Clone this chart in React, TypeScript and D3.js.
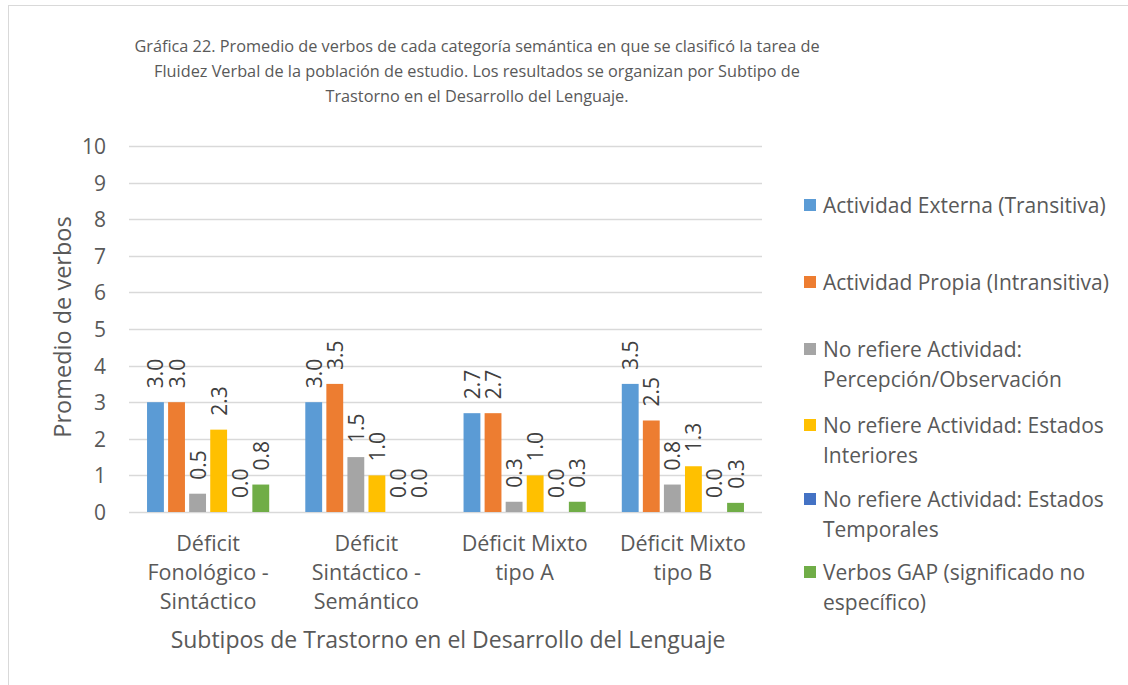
import * as d3 from 'd3';

const categories = [
  ['Déficit', 'Fonológico -', 'Sintáctico'],
  ['Déficit', 'Sintáctico -', 'Semántico'],
  ['Déficit Mixto', 'tipo A'],
  ['Déficit Mixto', 'tipo B'],
];

const seriesNames = [
  ['Actividad Externa (Transitiva)'],
  ['Actividad Propia (Intransitiva)'],
  ['No refiere Actividad:', 'Percepción/Observación'],
  ['No refiere Actividad: Estados', 'Interiores'],
  ['No refiere Actividad: Estados', 'Temporales'],
  ['Verbos GAP (significado no', 'específico)'],
];

// one array per series, values per category
const externa = [3.0, 3.0, 2.7, 3.5];
const propia = [3.0, 3.5, 2.7, 2.5];
const percepcion = [0.5, 1.5, 0.28, 0.75];
const interiores = [2.25, 1.0, 1.0, 1.25];
const temporales = [0, 0, 0, 0];
const gap = [0.75, 0, 0.28, 0.25];
const seriesValues = [externa, propia, percepcion, interiores, temporales, gap];

const colors = ['#5B9BD5', '#ED7D31', '#A5A5A5', '#FFC000', '#4472C4', '#70AD47'];
const yTicks = [0, 1, 2, 3, 4, 5, 6, 7, 8, 9, 10];

const titleLines = [
  'Gráfica 22. Promedio de verbos de cada categoría semántica en que se clasificó la tarea de',
  'Fluidez Verbal de la población de estudio. Los resultados se organizan por Subtipo de',
  'Trastorno en el Desarrollo del Lenguaje.',
];

const FONT = '"Open Sans", "DejaVu Sans", sans-serif';

export default function App() {
  const width = 1128;
  const height = 685;
  const plot = { left: 129, right: 762, top: 146, bottom: 512 };

  const y = d3.scaleLinear().domain([0, 10]).range([plot.bottom, plot.top]);
  const x0 = d3
    .scaleBand<number>()
    .domain(d3.range(categories.length))
    .range([plot.left, plot.right]);
  const pad = x0.bandwidth() * 0.114;
  const x1 = d3
    .scaleBand<number>()
    .domain(d3.range(seriesValues.length))
    .range([pad, x0.bandwidth() - pad])
    .paddingInner(0.2);

  const legendRowY = [205, 282, 349, 425, 499, 572];

  return (
    <svg
      width={width}
      height={height}
      style={{ position: 'absolute', left: 0, top: 0, fontFamily: FONT }}
    >
      <rect x={0} y={0} width={width} height={height} fill="#fff" />
      <rect x={8.5} y={5.5} width={width} height={height} fill="none" stroke="#d9d9d9" />

      {titleLines.map((t, i) => (
        <text
          key={i}
          x={477}
          y={46 + i * 25}
          textAnchor="middle"
          dominantBaseline="central"
          fontSize={16.3}
          fill="#595959"
        >
          {t}
        </text>
      ))}

      {/* gridlines */}
      {yTicks.map((t) => (
        <line
          key={t}
          x1={plot.left}
          x2={plot.right}
          y1={Math.round(y(t)) + 0.5}
          y2={Math.round(y(t)) + 0.5}
          stroke="#d9d9d9"
          strokeWidth={1.5}
        />
      ))}
      {yTicks.map((t) => (
        <text
          key={t}
          x={106}
          y={y(t)}
          textAnchor="end"
          dominantBaseline="central"
          fontSize={21}
          fill="#595959"
        >
          {t}
        </text>
      ))}
      <text
        transform={`translate(62,327) rotate(-90)`}
        textAnchor="middle"
        dominantBaseline="central"
        fontSize={23.5}
        fill="#595959"
      >
        Promedio de verbos
      </text>

      {/* bars */}
      {categories.map((_, ci) => (
        <g key={ci} transform={`translate(${x0(ci)},0)`}>
          {seriesValues.map((vals, si) => {
            const v = vals[ci];
            const bx = x1(si)!;
            const bw = x1.bandwidth();
            return (
              <g key={si}>
                {v > 0 && (
                  <rect
                    x={bx}
                    y={y(v)}
                    width={bw}
                    height={y(0) - y(v)}
                    fill={colors[si]}
                  />
                )}
                <text
                  transform={`translate(${bx + bw / 2},${y(v) - 14}) rotate(-90)`}
                  textAnchor="start"
                  dominantBaseline="central"
                  fontSize={21}
                  fill="#404040"
                >
                  {v.toFixed(1)}
                </text>
              </g>
            );
          })}
        </g>
      ))}

      {/* category labels */}
      {categories.map((lines, ci) => (
        <g key={ci}>
          {lines.map((l, li) => (
            <text
              key={li}
              x={x0(ci)! + x0.bandwidth() / 2}
              y={542 + li * 29}
              textAnchor="middle"
              dominantBaseline="central"
              fontSize={21.5}
              fill="#595959"
            >
              {l}
            </text>
          ))}
        </g>
      ))}
      <text
        x={448}
        y={639}
        textAnchor="middle"
        dominantBaseline="central"
        fontSize={23}
        fill="#595959"
      >
        Subtipos de Trastorno en el Desarrollo del Lenguaje
      </text>

      {/* legend */}
      {seriesNames.map((lines, si) => (
        <g key={si}>
          <rect x={804} y={legendRowY[si] - 6} width={12} height={12} fill={colors[si]} />
          {lines.map((l, li) => (
            <text
              key={li}
              x={823}
              y={legendRowY[si] + li * 30}
              dominantBaseline="central"
              fontSize={21}
              fill="#595959"
            >
              {l}
            </text>
          ))}
        </g>
      ))}
    </svg>
  );
}
